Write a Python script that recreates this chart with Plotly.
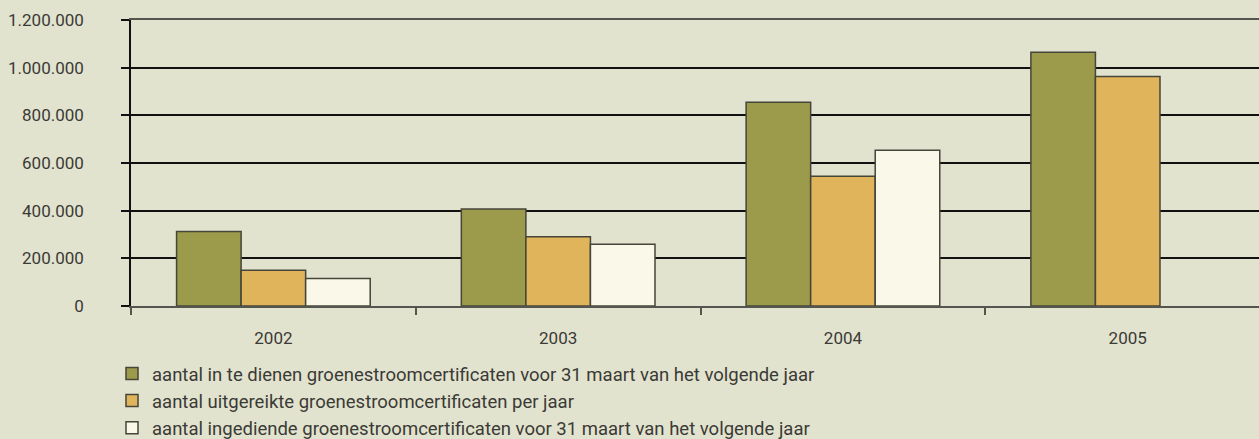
import plotly.graph_objects as go

years = ["2002", "2003", "2004", "2005"]
series_names = [
    "aantal in te dienen groenestroomcertificaten voor 31 maart van het volgende jaar",
    "aantal uitgereikte groenestroomcertificaten per jaar",
    "aantal ingediende groenestroomcertificaten voor 31 maart van het volgende jaar",
]
in_te_dienen = [313000, 407000, 855000, 1065000]
uitgereikt = [150000, 291000, 544000, 963000]
ingediend = [115000, 259000, 653000, None]
colors = ["#9c9b4b", "#e0b45a", "#faf9e9"]

bg = "#e2e3ce"
txt = "#3a3a36"
font = "Roboto"

fig = go.Figure()
for name, vals, col in zip(series_names, [in_te_dienen, uitgereikt, ingediend], colors):
    fig.add_trace(go.Bar(
        x=years, y=vals, name=name,
        marker=dict(color=col, line=dict(color="#45453a", width=1.5)),
    ))

fig.update_layout(
    width=1259, height=439,
    paper_bgcolor=bg, plot_bgcolor=bg,
    margin=dict(l=131, r=0, t=20, b=133),
    separators=",.",
    barmode="group", bargap=0.32, bargroupgap=0,
    font=dict(family=font, size=16, color=txt),
    showlegend=True,
    legend=dict(
        xref="container", yref="container",
        x=112 / 1259, y=1 - 355 / 439, xanchor="left", yanchor="top",
        orientation="h", entrywidth=1, entrywidthmode="fraction",
        bgcolor="rgba(0,0,0,0)",
        font=dict(family=font, size=18.5, color=txt),
        traceorder="normal",
    ),
    xaxis=dict(
        type="category", range=[-0.5, 3.461],
        showline=True, linecolor="#555550", linewidth=1.5, mirror=True,
        ticks="outside", tickson="boundaries", ticklen=7, tickcolor="#555550", tickwidth=1.5,
        tickfont=dict(family=font, size=17, color=txt),
        ticklabelstandoff=16,
        showgrid=False,
    ),
    yaxis=dict(
        range=[0, 1200000], tickvals=[0, 200000, 400000, 600000, 800000, 1000000, 1200000],
        tickformat=",d",
        showline=True, linecolor="#111111", linewidth=1.5,
        ticks="outside", ticklen=8, tickcolor="#111111", tickwidth=1.5,
        showgrid=True, gridcolor="#111111", gridwidth=2,
        zeroline=False,
        tickfont=dict(family=font, size=17, color=txt),
        ticklabelstandoff=34,
    ),
)

fig.write_html(
    "out.html",
    config={"displayModeBar": False},
    post_script="document.body.style.margin='0';document.body.style.background='#e2e3ce';",
)
